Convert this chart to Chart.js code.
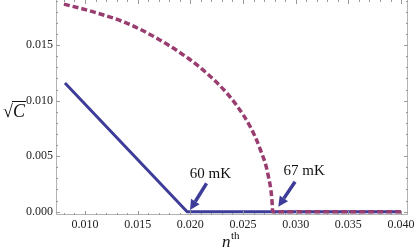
<!DOCTYPE html>
<html>
<head>
<meta charset="utf-8">
<script src="https://cdn.jsdelivr.net/npm/chart.js@4.4.1/dist/chart.umd.min.js"></script>
<style>
  html, body { margin: 0; padding: 0; background: #fff; }
  #wrap { width: 415px; height: 252px; }
</style>
</head>
<body>
<div id="wrap"><canvas id="chart" width="415" height="252"></canvas></div>
<script>
// blue solid curve (60 mK)
const blueN = [0.0081, 0.0197, 0.0400];
const blueC = [0.0116, 0.0, 0.0];

// dashed curve (67 mK)
const pinkN = [0.0080, 0.0108, 0.0140, 0.0171, 0.0198, 0.0212, 0.0231, 0.0244, 0.0257, 0.0266, 0.0274, 0.02778, 0.02781, 0.0400];
const pinkC = [0.0187, 0.0180, 0.01697, 0.01547, 0.01382, 0.01277, 0.01106, 0.00957, 0.00763, 0.00570, 0.00322, 0.0006, 0.0, 0.0];

const xTicks = [0.010, 0.015, 0.020, 0.025, 0.030, 0.035, 0.040];
const yTicks = [0.000, 0.005, 0.010, 0.015];

// arrow annotations, in data units
const notes = [
  { text: "60 mK", at: [0.0219, 0.00335], from: [0.02154, 0.00255], to: [0.01997, 0.00015] },
  { text: "67 mK", at: [0.0308, 0.00362], from: [0.02994, 0.00270], to: [0.02835, 0.00045] }
];

const blue = "rgb(61,61,153)";
const pink = "rgb(153,61,112)";
const serif = "'Liberation Serif', 'Times New Roman', serif";

const toPts = (xs, ys) => xs.map((x, i) => ({ x: x, y: ys[i] }));

const frame = {
  id: "frame",
  afterDraw(chart) {
    const ctx = chart.ctx;
    const a = chart.chartArea;
    const xs = chart.scales.x, ys = chart.scales.y;
    ctx.save();
    ctx.strokeStyle = "#b4b4b4";
    ctx.lineWidth = 1;
    ctx.strokeRect(a.left + 0.5, a.top - 0.5, a.right - a.left - 1, a.bottom - a.top);

    ctx.strokeStyle = "#999";
    ctx.beginPath();
    for (let i = 7; i <= 40; i++) {
      const v = i / 1000;
      const px = Math.round(xs.getPixelForValue(v)) + 0.5;
      if (px < a.left || px > a.right) continue;
      const len = i % 5 === 0 ? 4 : 2;
      ctx.moveTo(px, a.bottom); ctx.lineTo(px, a.bottom - len);
      ctx.moveTo(px, a.top); ctx.lineTo(px, a.top + len);
    }
    for (let i = 0; i <= 19; i++) {
      const v = i / 1000;
      const py = Math.round(ys.getPixelForValue(v)) + 0.5;
      if (py < a.top || py > a.bottom) continue;
      const len = i % 5 === 0 ? 4 : 2;
      ctx.moveTo(a.left, py); ctx.lineTo(a.left + len, py);
      ctx.moveTo(a.right, py); ctx.lineTo(a.right - len, py);
    }
    ctx.stroke();

    // arrows and labels
    ctx.font = "15px " + serif;
    ctx.textAlign = "center";
    ctx.textBaseline = "middle";
    notes.forEach(n => {
      ctx.fillStyle = "#111";
      ctx.fillText(n.text, xs.getPixelForValue(n.at[0]), ys.getPixelForValue(n.at[1]));
      const x0 = xs.getPixelForValue(n.from[0]), y0 = ys.getPixelForValue(n.from[1]);
      const x1 = xs.getPixelForValue(n.to[0]), y1 = ys.getPixelForValue(n.to[1]);
      const ang = Math.atan2(y1 - y0, x1 - x0);
      const head = 10, half = 5;
      const bx = x1 - head * Math.cos(ang), by = y1 - head * Math.sin(ang);
      ctx.strokeStyle = blue;
      ctx.lineWidth = 3.5;
      ctx.beginPath();
      ctx.moveTo(x0, y0); ctx.lineTo(bx, by);
      ctx.stroke();
      ctx.fillStyle = blue;
      ctx.beginPath();
      ctx.moveTo(x1, y1);
      ctx.lineTo(bx + half * Math.sin(ang), by - half * Math.cos(ang));
      ctx.lineTo(bx - half * Math.sin(ang), by + half * Math.cos(ang));
      ctx.closePath();
      ctx.fill();
    });

    // axis titles
    ctx.fillStyle = "#111";
    ctx.textAlign = "left";
    ctx.textBaseline = "alphabetic";
    ctx.font = "italic 17px " + serif;
    ctx.fillText("n", 222, 247);
    ctx.font = "11px " + serif;
    ctx.fillText("th", 231, 239);

    ctx.font = "18px " + serif;
    ctx.fillText("\u221A", 3, 117);
    ctx.font = "italic 18px " + serif;
    ctx.fillText("C", 13, 117);
    ctx.strokeStyle = "#111";
    ctx.lineWidth = 1;
    ctx.beginPath();
    ctx.moveTo(12, 101.5); ctx.lineTo(26, 101.5);
    ctx.stroke();
    ctx.restore();
  }
};

new Chart(document.getElementById("chart"), {
  type: "line",
  data: {
    datasets: [
      {
        label: "60 mK",
        data: toPts(blueN, blueC),
        borderColor: blue,
        borderWidth: 3,
        pointRadius: 0,
        tension: 0,
        order: 1
      },
      {
        label: "67 mK",
        data: toPts(pinkN, pinkC),
        borderColor: pink,
        borderWidth: 3.5,
        borderDash: [6, 3],
        pointRadius: 0,
        cubicInterpolationMode: "monotone",
        order: 0
      }
    ]
  },
  options: {
    responsive: false,
    animation: false,
    layout: { padding: { left: 0, right: 7, top: 0, bottom: 0 } },
    plugins: { legend: { display: false }, tooltip: { enabled: false } },
    scales: {
      x: {
        type: "linear",
        min: 0.00725,
        max: 0.04066,
        grid: { display: false, drawTicks: false },
        border: { display: false },
        afterBuildTicks: s => { s.ticks = xTicks.map(v => ({ value: v })); },
        afterFit: s => { s.height = 37; s.paddingLeft = 0; s.paddingRight = 0; },
        ticks: {
          padding: 3,
          color: "#222",
          font: { family: serif, size: 12 },
          maxRotation: 0,
          autoSkip: false,
          callback: v => v.toFixed(3)
        }
      },
      y: {
        type: "linear",
        min: -0.0003,
        max: 0.01907,
        grid: { display: false, drawTicks: false },
        border: { display: false },
        afterBuildTicks: s => { s.ticks = yTicks.map(v => ({ value: v })); },
        afterFit: s => { s.width = 56; s.paddingTop = 0; s.paddingBottom = 0; },
        ticks: {
          padding: 3,
          color: "#222",
          font: { family: serif, size: 12 },
          callback: v => v.toFixed(3)
        }
      }
    }
  },
  plugins: [frame]
});
</script>
</body>
</html>
